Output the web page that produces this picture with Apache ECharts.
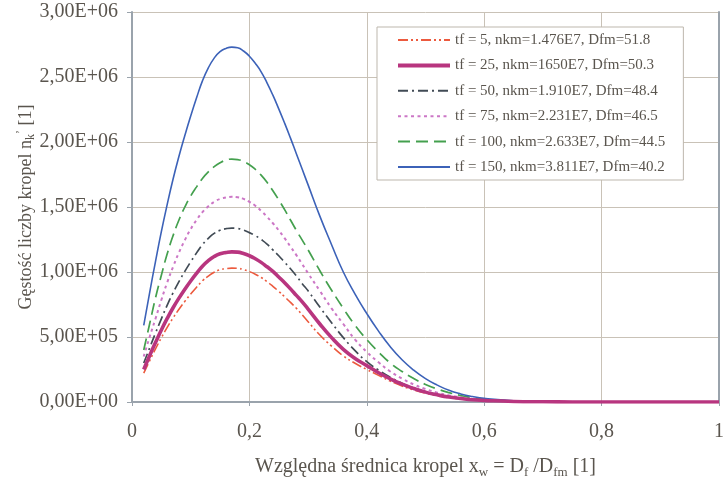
<!DOCTYPE html>
<html>
<head>
<meta charset="utf-8">
<script src="https://cdn.jsdelivr.net/npm/echarts@6/dist/echarts.min.js"></script>
<style>html,body{margin:0;padding:0;background:#fff;}#c{width:727px;height:477px;}</style>
</head>
<body>
<div id="c"></div>
<script>
// x positions (relative diameter x_w)
var xs = [0.02,0.03,0.04,0.05,0.06,0.07,0.08,0.09,0.10,0.11,0.12,0.13,0.14,0.15,0.16,0.17,0.18,0.19,0.20,0.21,0.22,0.23,0.24,0.25,0.26,0.27,0.28,0.29,0.30,
          0.32,0.34,0.36,0.38,0.40,0.42,0.44,0.46,0.48,0.50,0.52,0.54,0.56,0.58,0.60,
          0.65,0.70,0.75,0.80,0.85,0.90,0.95,1.00];

// density values
var tf5 = [0.222e6,0.317e6,0.408e6,0.494e6,0.574e6,0.647e6,0.713e6,0.774e6,0.830e6,0.883e6,0.932e6,0.969e6,0.998e6,1.017e6,1.026e6,1.030e6,1.028e6,1.019e6,1.003e6,0.983e6,0.958e6,0.926e6,0.890e6,0.851e6,0.810e6,0.766e6,0.721e6,0.670e6,0.618e6,
           0.515e6,0.430e6,0.355e6,0.298e6,0.250e6,0.205e6,0.161e6,0.123e6,0.093e6,0.068e6,0.049e6,0.034e6,0.024e6,0.015e6,0.010e6,
           0.0035e6,0.0013e6,0.0005e6,0.0002e6,0.0001e6,0,0,0];
var tf25 = [0.250e6,0.356e6,0.457e6,0.554e6,0.643e6,0.725e6,0.799e6,0.867e6,0.931e6,0.990e6,1.045e6,1.087e6,1.119e6,1.140e6,1.150e6,1.155e6,1.153e6,1.142e6,1.125e6,1.102e6,1.074e6,1.040e6,1.005e6,0.962e6,0.918e6,0.870e6,0.820e6,0.770e6,0.715e6,
            0.600e6,0.495e6,0.405e6,0.335e6,0.280e6,0.225e6,0.178e6,0.137e6,0.104e6,0.076e6,0.055e6,0.038e6,0.027e6,0.017e6,0.012e6,
            0.004e6,0.0015e6,0.0005e6,0.0002e6,0.0001e6,0,0,0];
var tf50 = [0.300e6,0.415e6,0.530e6,0.640e6,0.745e6,0.840e6,0.926e6,1.005e6,1.078e6,1.147e6,1.211e6,1.259e6,1.297e6,1.321e6,1.333e6,1.338e6,1.335e6,1.323e6,1.303e6,1.280e6,1.250e6,1.215e6,1.170e6,1.125e6,1.075e6,1.025e6,0.970e6,0.910e6,0.855e6,
            0.730e6,0.610e6,0.495e6,0.395e6,0.310e6,0.245e6,0.190e6,0.145e6,0.108e6,0.080e6,0.058e6,0.041e6,0.029e6,0.020e6,0.014e6,
            0.005e6,0.002e6,0.0007e6,0.0002e6,0.0001e6,0,0,0];
var tf75 = [0.350e6,0.500e6,0.640e6,0.785e6,0.920e6,1.040e6,1.150e6,1.245e6,1.330e6,1.400e6,1.460e6,1.505e6,1.540e6,1.562e6,1.573e6,1.578e6,1.575e6,1.562e6,1.540e6,1.510e6,1.470e6,1.425e6,1.375e6,1.320e6,1.260e6,1.195e6,1.130e6,1.060e6,0.990e6,
            0.855e6,0.720e6,0.600e6,0.480e6,0.385e6,0.305e6,0.235e6,0.180e6,0.135e6,0.100e6,0.072e6,0.051e6,0.036e6,0.025e6,0.017e6,
            0.006e6,0.002e6,0.0008e6,0.0003e6,0.0001e6,0,0,0];
var tf100 = [0.400e6,0.600e6,0.800e6,0.975e6,1.140e6,1.280e6,1.400e6,1.500e6,1.585e6,1.655e6,1.720e6,1.770e6,1.810e6,1.840e6,1.860e6,1.869e6,1.865e6,1.850e6,1.825e6,1.790e6,1.745e6,1.690e6,1.625e6,1.555e6,1.480e6,1.400e6,1.320e6,1.245e6,1.170e6,
             1.010e6,0.860e6,0.720e6,0.590e6,0.480e6,0.385e6,0.300e6,0.235e6,0.180e6,0.135e6,0.100e6,0.072e6,0.050e6,0.034e6,0.023e6,
             0.008e6,0.003e6,0.001e6,0.0004e6,0.0002e6,0.0001e6,0,0];
var tf150 = [0.590e6,0.840e6,1.080e6,1.310e6,1.520e6,1.715e6,1.890e6,2.050e6,2.200e6,2.340e6,2.470e6,2.570e6,2.645e6,2.695e6,2.720e6,2.730e6,2.725e6,2.700e6,2.660e6,2.605e6,2.540e6,2.455e6,2.360e6,2.255e6,2.145e6,2.030e6,1.910e6,1.790e6,1.670e6,
             1.430e6,1.210e6,1.000e6,0.830e6,0.680e6,0.545e6,0.425e6,0.325e6,0.245e6,0.180e6,0.130e6,0.090e6,0.062e6,0.042e6,0.028e6,
             0.010e6,0.004e6,0.0015e6,0.0005e6,0.0002e6,0.0001e6,0,0];

var seriesNames = [
  'tf = 5, nkm=1.476E7, Dfm=51.8',
  'tf = 25, nkm=1650E7, Dfm=50.3',
  'tf = 50, nkm=1.910E7, Dfm=48.4',
  'tf = 75, nkm=2.231E7, Dfm=46.5',
  'tf = 100, nkm=2.633E7, Dfm=44.5',
  'tf = 150, nkm=3.811E7, Dfm=40.2'
];
var seriesValues = [tf5, tf25, tf50, tf75, tf100, tf150];

var styles = [
  {color:'#EC5A3E', width:1.6, type:[10,3,2,3,2,3]},
  {color:'#B8357F', width:3.6, type:'solid'},
  {color:'#414B55', width:1.7, type:[10,4,2,4]},
  {color:'#CC77C6', width:2, type:[3,3.5]},
  {color:'#44A04E', width:1.7, type:[12,6]},
  {color:'#3C62B8', width:1.6, type:'solid'}
];

var FONT = 'Liberation Serif';
var TXT = '#5A554E';

function sci(v){
  if (v === 0) return '0,00E+00';
  var e = Math.floor(Math.log10(v) + 1e-9);
  var m = v / Math.pow(10, e);
  return m.toFixed(2).replace('.', ',') + 'E+' + (e < 10 ? '0' : '') + e;
}

var series = seriesNames.map(function(n, i){
  return {
    name: n, type: 'line', smooth: 0.5, symbol: 'none',
    data: xs.map(function(x, j){ return [x, seriesValues[i][j]]; }),
    lineStyle: {color: styles[i].color, width: styles[i].width, type: styles[i].type},
    itemStyle: {color: styles[i].color},
    z: i === 1 ? 3 : 2
  };
});

var legendData = seriesNames.map(function(n, i){
  return {name: n, itemStyle: {opacity: 0},
    lineStyle: {color: styles[i].color, width: i === 1 ? 4 : 2, type: styles[i].type}};
});

var chart = echarts.init(document.getElementById('c'), null, {renderer:'canvas'});
chart.setOption({
  animation: false,
  backgroundColor: '#ffffff',
  grid: {left:132, right:8, top:12, bottom:75, outerBoundsMode:'none', containLabel:false},
  legend: {
    orient:'vertical', left:377, top:27,
    padding:[5,18,5,19],
    itemWidth:52, itemHeight:16, itemGap:9.4,
    backgroundColor:'#ffffff', borderColor:'#BDB7AD', borderWidth:1,
    itemStyle:{opacity:0},
    textStyle:{fontFamily:FONT, fontSize:15, color:TXT, lineHeight:16},
    data: legendData
  },
  xAxis: {
    type:'value', min:0, max:1, interval:0.2,
    name:'Względna średnica kropel x{s|w} = D{s|f} /D{s|fm} [1]',
    nameLocation:'middle', nameGap:65, nameMoveOverlap:false,
    nameTextStyle:{fontFamily:FONT, fontSize:20, color:TXT, lineHeight:24, verticalAlign:'middle',
      rich:{s:{fontFamily:FONT, fontSize:13, color:TXT, lineHeight:24, verticalAlign:'bottom'}}},
    axisLine:{show:true, onZero:false, lineStyle:{color:'#9AA3AC', width:2}},
    axisTick:{show:true, length:4, lineStyle:{color:'#9AA3AC'}},
    axisLabel:{fontFamily:FONT, fontSize:20, color:TXT, margin:20,
      formatter:function(v){ return (Math.round(v*10)/10).toString().replace('.', ','); }},
    splitLine:{show:true, lineStyle:{color:'#C9C2B7', width:1}}
  },
  yAxis: [{
    type:'value', min:0, max:3000000, interval:500000,
    name:'Gęstość liczby kropel n{s|k}{p|\u2019} [1]',
    nameLocation:'middle', nameGap:106, nameRotate:90, nameMoveOverlap:false,
    nameTextStyle:{fontFamily:FONT, fontSize:18, color:TXT, lineHeight:22, verticalAlign:'middle',
      rich:{s:{fontFamily:FONT, fontSize:12, color:TXT, lineHeight:22, verticalAlign:'bottom'},
            p:{fontFamily:FONT, fontSize:12, color:TXT, lineHeight:22, verticalAlign:'top'}}},
    axisLine:{show:true, lineStyle:{color:'#9AA3AC', width:2}},
    axisTick:{show:true, length:5, lineStyle:{color:'#9AA3AC'}},
    axisLabel:{fontFamily:FONT, fontSize:20, color:TXT, margin:14, formatter:sci},
    splitLine:{show:true, lineStyle:{color:'#C9C2B7', width:1}}
  },{
    type:'value', min:0, max:3000000, interval:500000, position:'right',
    axisLine:{show:true, lineStyle:{color:'#9AA3AC', width:2}},
    axisTick:{show:false}, axisLabel:{show:false}, splitLine:{show:false}
  }],
  series: series
});
</script>
</body>
</html>
